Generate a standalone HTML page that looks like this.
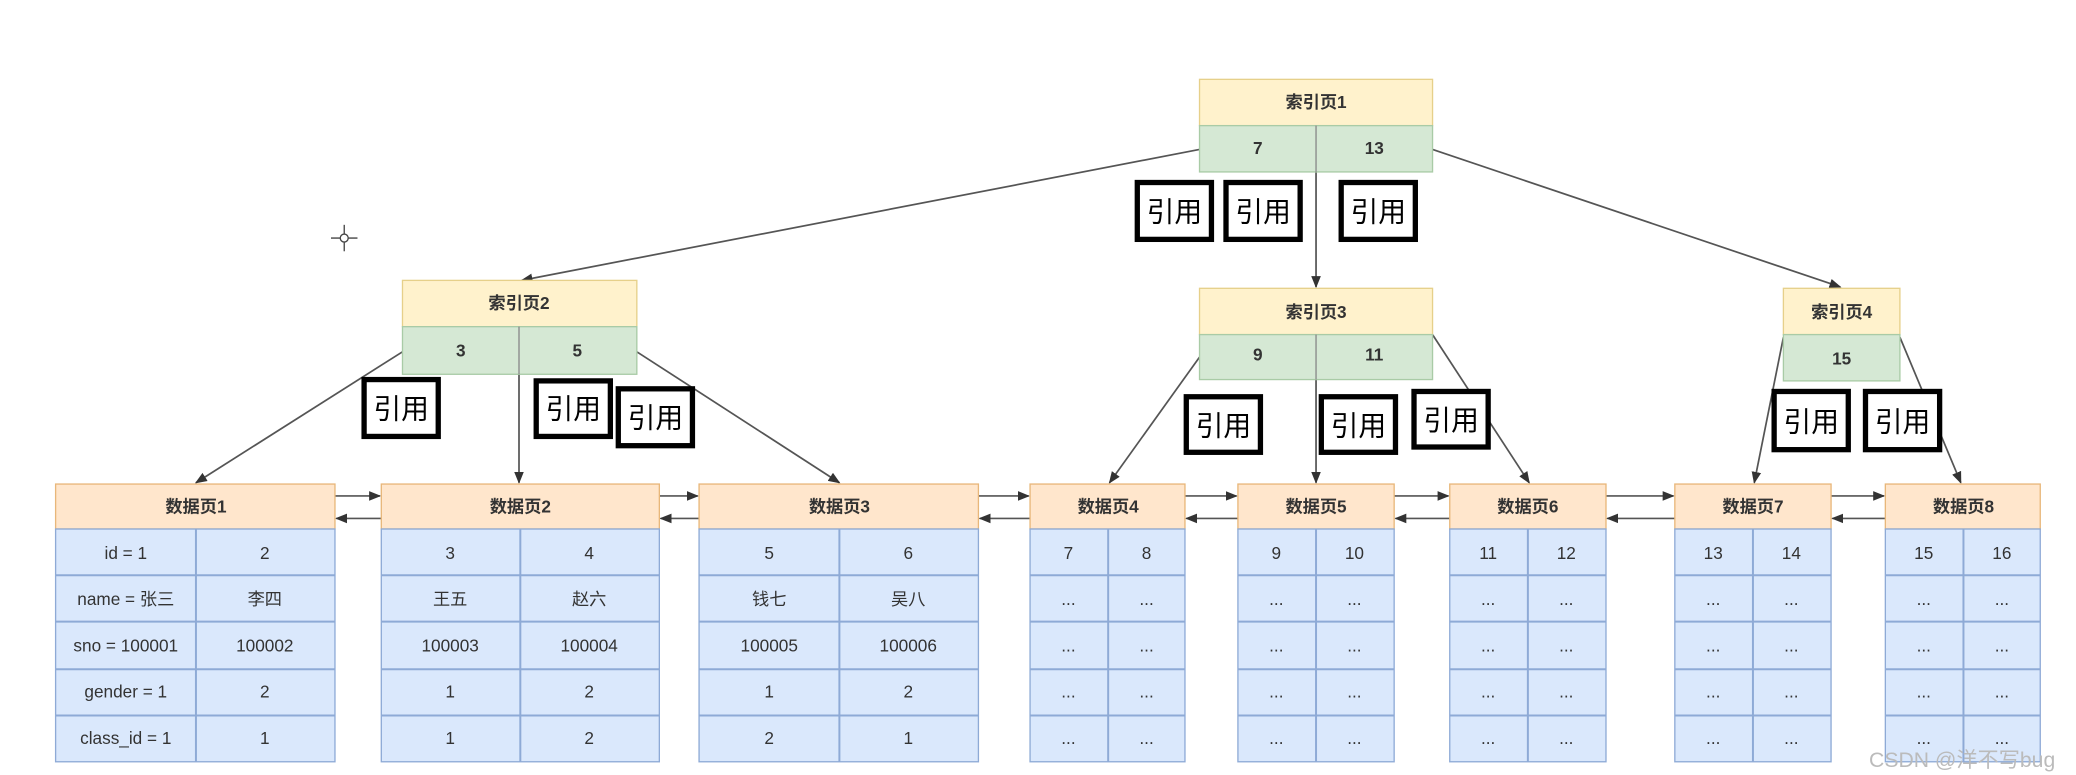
<!DOCTYPE html>
<html><head><meta charset="utf-8"><style>
html,body{margin:0;padding:0;background:#fff;width:2076px;height:775px;overflow:hidden}
svg{display:block}
text{font-family:"Liberation Sans","Noto Sans CJK SC",sans-serif;text-anchor:middle;dominant-baseline:central;fill:#333;font-size:13px}
.b{font-weight:bold}
.r{font-size:21px;fill:#000;font-family:"Noto Sans CJK SC","WenQuanYi Zen Hei",sans-serif}
.y{fill:#fff2cc;stroke:#e6d08a;stroke-width:1}
.g{fill:#d5e8d4;stroke:#a9cba6;stroke-width:1}
.o{fill:#ffe6cc;stroke:#e8b77a;stroke-width:1}
.u{fill:#dae8fc;stroke:#8eaad6;stroke-width:1}
.ln{stroke:#555;stroke-width:1.3;fill:none}
.rb{fill:#fff;stroke:#000;stroke-width:4}
.d{stroke:#8eaad6;stroke-width:1.5}
</style></head><body>
<svg width="2076" height="775" viewBox="0 0 1568 586" preserveAspectRatio="none">
<defs><marker id="a" viewBox="0 0 10 10" refX="9" refY="5" markerWidth="7" markerHeight="7" orient="auto"><path d="M0,1 L10,5 L0,9 z" fill="#333"/></marker></defs>

<!-- tree lines -->
<line class="ln" x1="906" y1="113" x2="394" y2="212" marker-end="url(#a)"/>
<line class="ln" x1="994" y1="130" x2="994" y2="217" marker-end="url(#a)"/>
<line class="ln" x1="1082" y1="113" x2="1390" y2="217" marker-end="url(#a)"/>
<line class="ln" x1="304" y1="266" x2="148" y2="365" marker-end="url(#a)"/>
<line class="ln" x1="392" y1="283" x2="392" y2="365" marker-end="url(#a)"/>
<line class="ln" x1="481" y1="266" x2="634" y2="365" marker-end="url(#a)"/>
<line class="ln" x1="906" y1="270" x2="838" y2="365" marker-end="url(#a)"/>
<line class="ln" x1="994" y1="287" x2="994" y2="365" marker-end="url(#a)"/>
<line class="ln" x1="1082" y1="253" x2="1155" y2="365" marker-end="url(#a)"/>
<line class="ln" x1="1347" y1="255" x2="1325" y2="365" marker-end="url(#a)"/>
<line class="ln" x1="1435" y1="255" x2="1481" y2="365" marker-end="url(#a)"/>

<!-- horizontal links -->
<g class="ln">
<line x1="253" y1="375" x2="287" y2="375" marker-end="url(#a)"/><line x1="288" y1="392" x2="254" y2="392" marker-end="url(#a)"/>
<line x1="498" y1="375" x2="527" y2="375" marker-end="url(#a)"/><line x1="528" y1="392" x2="499" y2="392" marker-end="url(#a)"/>
<line x1="739" y1="375" x2="777" y2="375" marker-end="url(#a)"/><line x1="778" y1="392" x2="740" y2="392" marker-end="url(#a)"/>
<line x1="895" y1="375" x2="934" y2="375" marker-end="url(#a)"/><line x1="935" y1="392" x2="896" y2="392" marker-end="url(#a)"/>
<line x1="1053" y1="375" x2="1094" y2="375" marker-end="url(#a)"/><line x1="1095" y1="392" x2="1054" y2="392" marker-end="url(#a)"/>
<line x1="1213" y1="375" x2="1264" y2="375" marker-end="url(#a)"/><line x1="1265" y1="392" x2="1214" y2="392" marker-end="url(#a)"/>
<line x1="1383" y1="375" x2="1423" y2="375" marker-end="url(#a)"/><line x1="1424" y1="392" x2="1384" y2="392" marker-end="url(#a)"/>
</g>

<!-- index pages -->
<rect class="y" x="906" y="60" width="176" height="35"/><rect class="g" x="906" y="95" width="176" height="35"/>
<line x1="994" y1="95" x2="994" y2="130" stroke="#888"/>
<text class="b" x="994" y="77">索引页1</text><text class="b" x="950" y="112">7</text><text class="b" x="1038" y="112">13</text>

<rect class="y" x="304" y="212" width="177" height="35"/><rect class="g" x="304" y="247" width="177" height="36"/>
<line x1="392" y1="247" x2="392" y2="283" stroke="#888"/>
<text class="b" x="392" y="229">索引页2</text><text class="b" x="348" y="265">3</text><text class="b" x="436" y="265">5</text>

<rect class="y" x="906" y="218" width="176" height="35"/><rect class="g" x="906" y="253" width="176" height="34"/>
<line x1="994" y1="253" x2="994" y2="287" stroke="#888"/>
<text class="b" x="994" y="236">索引页3</text><text class="b" x="950" y="268">9</text><text class="b" x="1038" y="268">11</text>

<rect class="y" x="1347" y="218" width="88" height="35"/><rect class="g" x="1347" y="253" width="88" height="35"/>
<text class="b" x="1391" y="236">索引页4</text><text class="b" x="1391" y="271">15</text>

<!-- data pages -->
<g>
<rect class="o" x="42" y="366" width="211" height="34"/><rect class="u" x="42" y="400" width="211" height="176"/>
<line class="d" x1="148" y1="400" x2="148" y2="576"/>
<text class="b" x="148" y="383">数据页1</text>
<text x="95" y="418">id = 1</text><text x="200" y="418">2</text>
<text x="95" y="453">name = 张三</text><text x="200" y="453">李四</text>
<text x="95" y="488">sno = 100001</text><text x="200" y="488">100002</text>
<text x="95" y="523">gender = 1</text><text x="200" y="523">2</text>
<text x="95" y="558">class_id = 1</text><text x="200" y="558">1</text>
</g>
<g>
<rect class="o" x="288" y="366" width="210" height="34"/><rect class="u" x="288" y="400" width="210" height="176"/>
<line class="d" x1="393" y1="400" x2="393" y2="576"/>
<text class="b" x="393" y="383">数据页2</text>
<text x="340" y="418">3</text><text x="445" y="418">4</text>
<text x="340" y="453">王五</text><text x="445" y="453">赵六</text>
<text x="340" y="488">100003</text><text x="445" y="488">100004</text>
<text x="340" y="523">1</text><text x="445" y="523">2</text>
<text x="340" y="558">1</text><text x="445" y="558">2</text>
</g>
<g>
<rect class="o" x="528" y="366" width="211" height="34"/><rect class="u" x="528" y="400" width="211" height="176"/>
<line class="d" x1="634" y1="400" x2="634" y2="576"/>
<text class="b" x="634" y="383">数据页3</text>
<text x="581" y="418">5</text><text x="686" y="418">6</text>
<text x="581" y="453">钱七</text><text x="686" y="453">吴八</text>
<text x="581" y="488">100005</text><text x="686" y="488">100006</text>
<text x="581" y="523">1</text><text x="686" y="523">2</text>
<text x="581" y="558">2</text><text x="686" y="558">1</text>
</g>
<g>
<rect class="o" x="778" y="366" width="117" height="34"/><rect class="u" x="778" y="400" width="117" height="176"/>
<line class="d" x1="837" y1="400" x2="837" y2="576"/>
<text class="b" x="837" y="383">数据页4</text>
<text x="807" y="418">7</text><text x="866" y="418">8</text>
<text x="807" y="453">...</text><text x="866" y="453">...</text><text x="807" y="488">...</text><text x="866" y="488">...</text>
<text x="807" y="523">...</text><text x="866" y="523">...</text><text x="807" y="558">...</text><text x="866" y="558">...</text>
</g>
<g>
<rect class="o" x="935" y="366" width="118" height="34"/><rect class="u" x="935" y="400" width="118" height="176"/>
<line class="d" x1="994" y1="400" x2="994" y2="576"/>
<text class="b" x="994" y="383">数据页5</text>
<text x="964" y="418">9</text><text x="1023" y="418">10</text>
<text x="964" y="453">...</text><text x="1023" y="453">...</text><text x="964" y="488">...</text><text x="1023" y="488">...</text>
<text x="964" y="523">...</text><text x="1023" y="523">...</text><text x="964" y="558">...</text><text x="1023" y="558">...</text>
</g>
<g>
<rect class="o" x="1095" y="366" width="118" height="34"/><rect class="u" x="1095" y="400" width="118" height="176"/>
<line class="d" x1="1154" y1="400" x2="1154" y2="576"/>
<text class="b" x="1154" y="383">数据页6</text>
<text x="1124" y="418">11</text><text x="1183" y="418">12</text>
<text x="1124" y="453">...</text><text x="1183" y="453">...</text><text x="1124" y="488">...</text><text x="1183" y="488">...</text>
<text x="1124" y="523">...</text><text x="1183" y="523">...</text><text x="1124" y="558">...</text><text x="1183" y="558">...</text>
</g>
<g>
<rect class="o" x="1265" y="366" width="118" height="34"/><rect class="u" x="1265" y="400" width="118" height="176"/>
<line class="d" x1="1324" y1="400" x2="1324" y2="576"/>
<text class="b" x="1324" y="383">数据页7</text>
<text x="1294" y="418">13</text><text x="1353" y="418">14</text>
<text x="1294" y="453">...</text><text x="1353" y="453">...</text><text x="1294" y="488">...</text><text x="1353" y="488">...</text>
<text x="1294" y="523">...</text><text x="1353" y="523">...</text><text x="1294" y="558">...</text><text x="1353" y="558">...</text>
</g>
<g>
<rect class="o" x="1424" y="366" width="117" height="34"/><rect class="u" x="1424" y="400" width="117" height="176"/>
<line class="d" x1="1483" y1="400" x2="1483" y2="576"/>
<text class="b" x="1483" y="383">数据页8</text>
<text x="1453" y="418">15</text><text x="1512" y="418">16</text>
<text x="1453" y="453">...</text><text x="1512" y="453">...</text><text x="1453" y="488">...</text><text x="1512" y="488">...</text>
<text x="1453" y="523">...</text><text x="1512" y="523">...</text><text x="1453" y="558">...</text><text x="1512" y="558">...</text>
</g>
<!-- row separators -->
<g stroke="#8eaad6" stroke-width="1.5">
<line x1="42" y1="435" x2="253" y2="435"/><line x1="42" y1="470" x2="253" y2="470"/><line x1="42" y1="506" x2="253" y2="506"/><line x1="42" y1="541" x2="253" y2="541"/>
<line x1="288" y1="435" x2="498" y2="435"/><line x1="288" y1="470" x2="498" y2="470"/><line x1="288" y1="506" x2="498" y2="506"/><line x1="288" y1="541" x2="498" y2="541"/>
<line x1="528" y1="435" x2="739" y2="435"/><line x1="528" y1="470" x2="739" y2="470"/><line x1="528" y1="506" x2="739" y2="506"/><line x1="528" y1="541" x2="739" y2="541"/>
<line x1="778" y1="435" x2="895" y2="435"/><line x1="778" y1="470" x2="895" y2="470"/><line x1="778" y1="506" x2="895" y2="506"/><line x1="778" y1="541" x2="895" y2="541"/>
<line x1="935" y1="435" x2="1053" y2="435"/><line x1="935" y1="470" x2="1053" y2="470"/><line x1="935" y1="506" x2="1053" y2="506"/><line x1="935" y1="541" x2="1053" y2="541"/>
<line x1="1095" y1="435" x2="1213" y2="435"/><line x1="1095" y1="470" x2="1213" y2="470"/><line x1="1095" y1="506" x2="1213" y2="506"/><line x1="1095" y1="541" x2="1213" y2="541"/>
<line x1="1265" y1="435" x2="1383" y2="435"/><line x1="1265" y1="470" x2="1383" y2="470"/><line x1="1265" y1="506" x2="1383" y2="506"/><line x1="1265" y1="541" x2="1383" y2="541"/>
<line x1="1424" y1="435" x2="1541" y2="435"/><line x1="1424" y1="470" x2="1541" y2="470"/><line x1="1424" y1="506" x2="1541" y2="506"/><line x1="1424" y1="541" x2="1541" y2="541"/>
</g>

<!-- reference boxes -->
<rect class="rb" x="859" y="138" width="56" height="43"/><text class="r" x="887" y="159">引用</text>
<rect class="rb" x="926" y="138" width="56" height="43"/><text class="r" x="954" y="159">引用</text>
<rect class="rb" x="1013" y="138" width="56" height="43"/><text class="r" x="1041" y="159">引用</text>
<rect class="rb" x="275" y="287" width="56" height="43"/><text class="r" x="303" y="308">引用</text>
<rect class="rb" x="405" y="288" width="56" height="42"/><text class="r" x="433" y="308">引用</text>
<rect class="rb" x="467" y="294" width="56" height="43"/><text class="r" x="495" y="315">引用</text>
<rect class="rb" x="896" y="300" width="56" height="42"/><text class="r" x="924" y="321">引用</text>
<rect class="rb" x="998" y="300" width="56" height="42"/><text class="r" x="1026" y="321">引用</text>
<rect class="rb" x="1068" y="296" width="56" height="42"/><text class="r" x="1096" y="317">引用</text>
<rect class="rb" x="1340" y="296" width="56" height="44"/><text class="r" x="1368" y="318">引用</text>
<rect class="rb" x="1409" y="296" width="56" height="44"/><text class="r" x="1437" y="318">引用</text>

<!-- crosshair -->
<g stroke="#444" stroke-width="1"><line x1="250" y1="180" x2="270" y2="180"/><line x1="260" y1="170" x2="260" y2="190"/></g>
<circle cx="260" cy="180" r="3" fill="#fff" stroke="#444"/>

<text x="1482" y="575" style="font-size:16px;fill:#bbb">CSDN @洋不写bug</text>
</svg>
</body></html>
